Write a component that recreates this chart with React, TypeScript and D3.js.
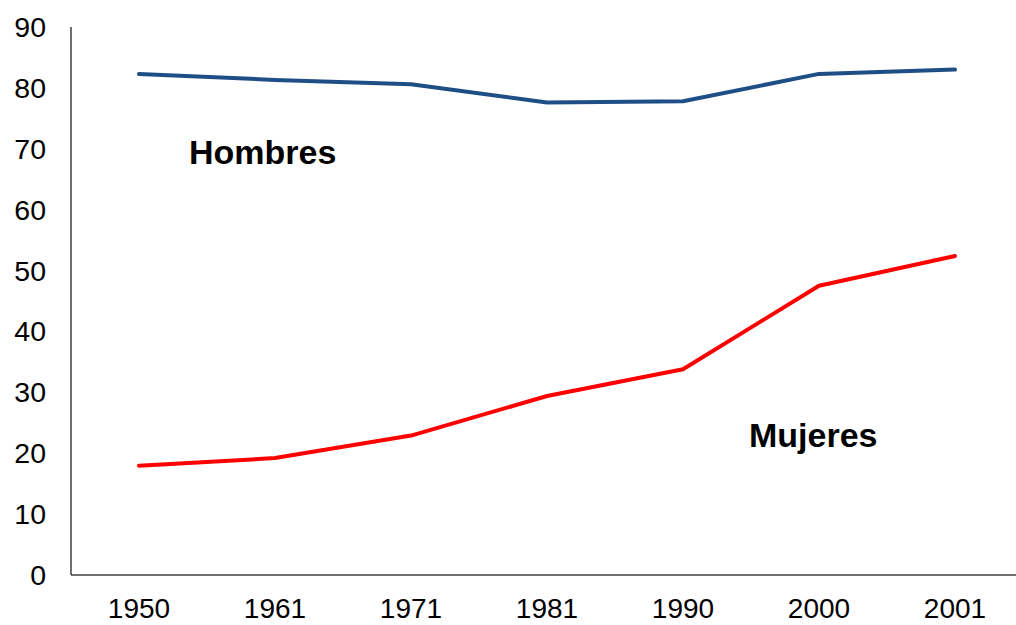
import React from "react";
import * as d3 from "d3";

const years = ["1950", "1961", "1971", "1981", "1990", "2000", "2001"];
const hombres = [82.3, 81.3, 80.6, 77.6, 77.8, 82.3, 83.0];
const mujeres = [17.95, 19.2, 22.9, 29.4, 33.8, 47.5, 52.4];
const yTicks = [0, 10, 20, 30, 40, 50, 60, 70, 80, 90];
const seriesLabels = ["Hombres", "Mujeres"];

const W = 1016;
const H = 625;
const axisX = 71;
const axisY = 575;

export default function App() {
  const x = d3.scalePoint<string>().domain(years).range([139, 955]);
  const y = d3.scaleLinear().domain([0, 90]).range([575, 27]);
  const line = d3
    .line<number>()
    .x((_, i) => x(years[i]) as number)
    .y((d) => y(d));

  const font = "'Liberation Sans', Arial, sans-serif";

  return (
    <svg
      width={W}
      height={H}
      style={{ position: "absolute", left: 0, top: 0, display: "block" }}
      fontFamily={font}
    >
      <rect width={W} height={H} fill="#ffffff" />
      {/* axes */}
      <line x1={axisX} x2={axisX} y1={y(90)} y2={axisY} stroke="#404040" strokeWidth={1.5} />
      <line x1={axisX} x2={W} y1={axisY} y2={axisY} stroke="#404040" strokeWidth={1.5} />
      {yTicks.map((t) => (
        <text key={t} x={46} y={y(t)} dy="0.35em" textAnchor="end" fontSize={28.5} fill="#000">
          {t}
        </text>
      ))}
      {years.map((yr) => (
        <text key={yr} x={x(yr)} y={618} textAnchor="middle" fontSize={28} fill="#000">
          {yr}
        </text>
      ))}
      <path d={line(hombres) || ""} fill="none" stroke="#1F4E87" strokeWidth={4} strokeLinejoin="round" strokeLinecap="round" />
      <path d={line(mujeres) || ""} fill="none" stroke="#FF0000" strokeWidth={4} strokeLinejoin="round" strokeLinecap="round" />
      <text x={189} y={164} fontSize={34} fontWeight="bold" fill="#000">
        {seriesLabels[0]}
      </text>
      <text x={749} y={447} fontSize={34} fontWeight="bold" fill="#000">
        {seriesLabels[1]}
      </text>
    </svg>
  );
}
